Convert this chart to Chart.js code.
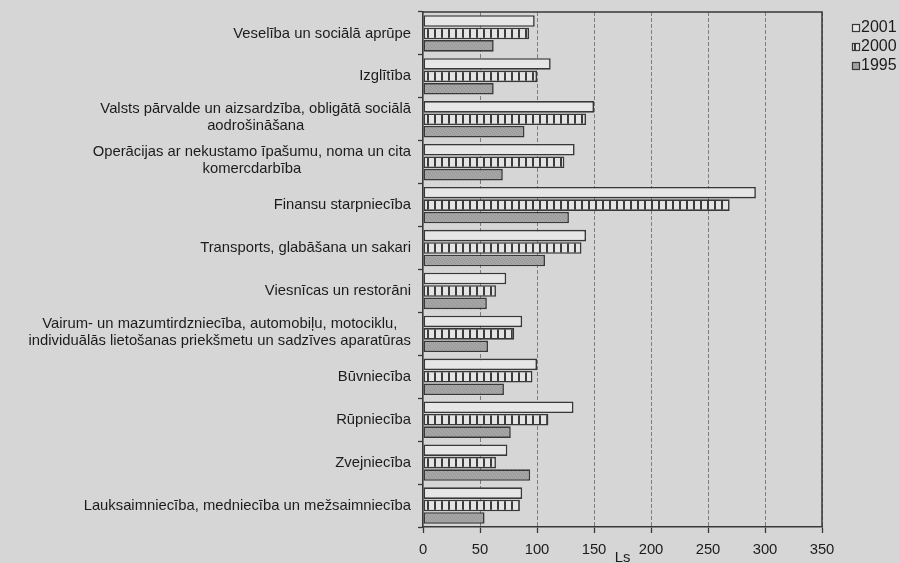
<!DOCTYPE html>
<html>
<head>
<meta charset="utf-8">
<title>Ls</title>
<script src="https://cdn.jsdelivr.net/npm/chart.js@4.4.0/dist/chart.umd.min.js"></script>
<style>
	html, body { margin: 0; padding: 0; background: #d6d6d6; }
	canvas { display: block; }
</style>
</head>
<body>
<canvas id="chart_bars" width="899" height="563"></canvas>
<script>
	'use strict';

	/* =========== Data ================= */
	var categories = [
		'Veselība un sociālā aprūpe',
		'Izglītība',
		['Valsts pārvalde un aizsardzība, obligātā sociālā', 'aodrošināšana'],
		['Operācijas ar nekustamo īpašumu, noma un cita', 'komercdarbība'],
		'Finansu starpniecība',
		'Transports, glabāšana un sakari',
		'Viesnīcas un restorāni',
		['Vairum- un mazumtirdzniecība, automobiļu, motociklu,', 'individuālās lietošanas priekšmetu un sadzīves aparatūras'],
		'Būvniecība',
		'Rūpniecība',
		'Zvejniecība',
		'Lauksaimniecība, medniecība un mežsaimniecība'
	];
	var years = ['2001', '2000', '1995'];
	var values2001 = [98, 112, 150, 133, 292, 143, 73, 87, 100, 132, 74, 87];
	var values2000 = [93, 100, 143, 124, 269, 139, 64, 80, 96, 110, 64, 85];
	var values1995 = [62, 62, 89, 70, 128, 107, 56, 57, 71, 77, 94, 54];
	var xTicks = [0, 50, 100, 150, 200, 250, 300, 350];
	var xTitle = 'Ls';
	/* ------------------------------------------------ */

	var textColor = '#1c1c1c';
	var lineColor = '#383838';
	var fontFamily = '"Liberation Sans", Arial, Helvetica, sans-serif';

	/* =========== Fill patterns ================= */
	function stripes() {
		var c = document.createElement('canvas');
		c.width = 7; c.height = 8;
		var g = c.getContext('2d');
		g.fillStyle = '#e4e4e4'; g.fillRect(0, 0, 7, 8);
		g.fillStyle = '#3c3c3c'; g.fillRect(0, 0, 2, 8);
		return g.createPattern(c, 'repeat');
	}
	function stipple() {
		var c = document.createElement('canvas');
		c.width = 4; c.height = 4;
		var g = c.getContext('2d');
		g.fillStyle = '#a6a6a6'; g.fillRect(0, 0, 4, 4);
		g.fillStyle = '#969696';
		g.fillRect(0, 0, 1, 1); g.fillRect(2, 1, 1, 1); g.fillRect(1, 2, 1, 1); g.fillRect(3, 3, 1, 1);
		return g.createPattern(c, 'repeat');
	}
	/* ------------------------------------------------ */

	/* =========== Plugins ================= */
	var paper = {
		id: 'paper',
		beforeDraw: function(chart) {
			var ctx = chart.ctx;
			ctx.save();
			ctx.fillStyle = '#d6d6d6';
			ctx.fillRect(0, 0, chart.width, chart.height);
			ctx.restore();
		}
	};

	var frame = {
		id: 'frame',
		afterDraw: function(chart) {
			var a = chart.chartArea, ctx = chart.ctx;
			ctx.save();
			ctx.strokeStyle = lineColor;
			ctx.lineWidth = 1.5;
			ctx.beginPath();
			ctx.moveTo(a.left, a.top);
			ctx.lineTo(a.right, a.top);
			ctx.lineTo(a.right, a.bottom);
			ctx.stroke();
			ctx.restore();
		}
	};

	// category labels: block right aligned, lines centred inside the block
	var yLabels = {
		id: 'yLabels',
		afterDraw: function(chart) {
			var scale = chart.scales.y, ctx = chart.ctx, lh = 17;
			ctx.save();
			ctx.font = '14.8px ' + fontFamily;
			ctx.fillStyle = textColor;
			ctx.textAlign = 'center';
			ctx.textBaseline = 'middle';
			chart.data.labels.forEach(function(label, i) {
				var lines = Array.isArray(label) ? label : [label];
				var w = Math.max.apply(null, lines.map(function(l) { return ctx.measureText(l).width; }));
				var cx = scale.right - 12 - w / 2;
				var cy = scale.getPixelForTick(i) - (lines.length - 1) * lh / 2 - (lines.length - 1) * 1.5;
				lines.forEach(function(l, j) { ctx.fillText(l, cx, cy + j * lh); });
			});
			ctx.restore();
		}
	};

	var sideLegend = {
		id: 'sideLegend',
		afterDraw: function(chart) {
			var a = chart.chartArea, ctx = chart.ctx;
			var x = a.right + 30, y = a.top + 16;
			ctx.save();
			ctx.font = '16px ' + fontFamily;
			ctx.textBaseline = 'middle';
			chart.data.datasets.forEach(function(ds, i) {
				var cy = y + i * 19;
				ctx.fillStyle = ds.backgroundColor;
				ctx.fillRect(x, cy - 4, 8, 8);
				ctx.strokeStyle = lineColor;
				ctx.lineWidth = 1.2;
				ctx.strokeRect(x + 0.5, cy - 3.5, 7, 7);
				ctx.fillStyle = textColor;
				ctx.fillText(ds.label, x + 9, cy);
			});
			ctx.restore();
		}
	};
	/* ------------------------------------------------ */

	/* =========== Bars ================= */
	var ctx = document.getElementById('chart_bars');
	var chart_bars = new Chart(ctx, {
		type: 'bar',
		data: {
			labels: categories,
			datasets: [{
				label: years[0],
				data: values2001,
				backgroundColor: '#e6e6e6'
			}, {
				label: years[1],
				data: values2000,
				backgroundColor: stripes()
			}, {
				label: years[2],
				data: values1995,
				backgroundColor: stipple()
			}]
		},
		options: {
			indexAxis: 'y',
			responsive: false,
			animation: false,
			devicePixelRatio: 1,
			layout: {
				padding: { left: 0, top: 12, right: 77, bottom: 0 }
			},
			datasets: {
				bar: {
					borderColor: lineColor,
					borderWidth: 1.6,
					borderSkipped: false,
					barPercentage: 0.93,
					categoryPercentage: 0.87
				}
			},
			plugins: {
				legend: { display: false },
				tooltip: { enabled: false }
			},
			scales: {
				x: {
					type: 'linear',
					min: 0,
					max: 350,
					afterBuildTicks: function(scale) {
						scale.ticks = xTicks.map(function(v) { return { value: v }; });
					},
					afterFit: function(scale) { scale.height = 36; },
					grid: {
						color: function(c) { return c.tick && c.tick.value === 0 ? 'rgba(0,0,0,0)' : '#7c7c7c'; },
						lineWidth: 1,
						drawTicks: true,
						tickLength: 6,
						tickColor: lineColor,
						tickWidth: 1.3
					},
					border: { display: true, color: lineColor, width: 1.6, dash: [4, 2] },
					ticks: {
						padding: 8,
						color: textColor,
						font: { family: fontFamily, size: 14.8 }
					},
					title: {
						display: true,
						text: xTitle,
						color: textColor,
						font: { family: fontFamily, size: 14.8 },
						padding: { top: 0, bottom: -4 }
					}
				},
				y: {
					afterFit: function(scale) { scale.width = 423; },
					grid: {
						drawOnChartArea: false,
						drawTicks: true,
						tickLength: 5,
						tickColor: lineColor,
						tickWidth: 1.3
					},
					border: { display: true, color: lineColor, width: 1.6 },
					ticks: { display: false }
				}
			}
		},
		plugins: [paper, yLabels, sideLegend, frame]
	});
	/* ------------------------------------------------ */
</script>
</body>
</html>
